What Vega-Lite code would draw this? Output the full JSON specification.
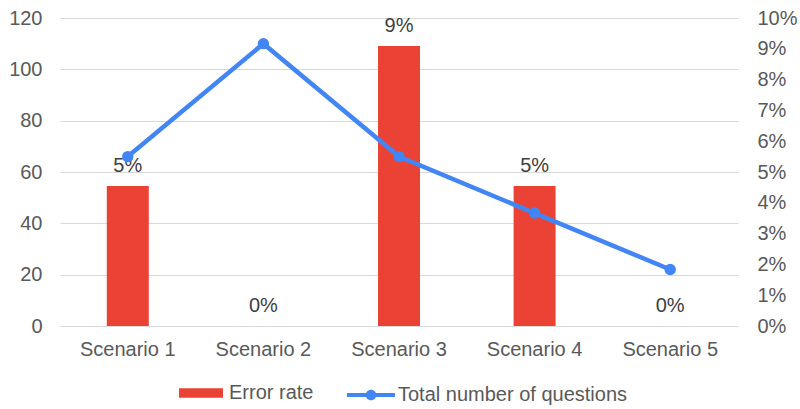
{
  "$schema": "https://vega.github.io/schema/vega-lite/v6.json",
  "width": 678,
  "height": 308,
  "autosize": {"type": "none"},
  "padding": {"left": 60, "top": 18, "right": 62, "bottom": 83},
  "config": {
    "view": {"stroke": null},
    "font": "Liberation Sans",
    "axis": {"labelFont": "Liberation Sans", "labelColor": "#595959", "labelFontSize": 20},
    "legend": {"labelFont": "Liberation Sans", "labelColor": "#595959", "labelFontSize": 20, "labelLimit": 500}
  },
  "data": {
    "values": [
      {"scenario": "Scenario 1", "rate": 0.04545, "questions": 66},
      {"scenario": "Scenario 2", "rate": 0, "questions": 110},
      {"scenario": "Scenario 3", "rate": 0.0909, "questions": 66},
      {"scenario": "Scenario 4", "rate": 0.04545, "questions": 44},
      {"scenario": "Scenario 5", "rate": 0, "questions": 22}
    ]
  },
  "encoding": {
    "x": {
      "field": "scenario",
      "type": "nominal",
      "sort": null,
      "scale": {"paddingInner": 0, "paddingOuter": 0},
      "axis": {"title": null, "labelAngle": 0, "ticks": false, "domainColor": "#D9D9D9", "domainWidth": 1, "labelPadding": 13}
    }
  },
  "layer": [
    {
      "encoding": {
        "y": {
          "field": "rate",
          "type": "quantitative",
          "scale": {"domain": [0, 0.1], "nice": false},
          "axis": {"orient": "right", "values": [0, 0.01, 0.02, 0.03, 0.04, 0.05, 0.06, 0.07, 0.08, 0.09, 0.1], "format": ".0%", "grid": false, "domain": false, "ticks": false, "labelPadding": 19, "title": null}
        }
      },
      "layer": [
        {
          "mark": {"type": "bar", "size": 42},
          "encoding": {
            "color": {
              "datum": "Error rate",
              "scale": {"range": ["#EA4335"]},
              "legend": {
                "orient": "none", "legendX": 119, "legendY": 353, "title": null,
                "symbolType": "M-1,-0.22H1V0.22H-1Z", "symbolSize": 1936, "labelOffset": 6,
                "encode": {"symbols": {"update": {"strokeWidth": {"value": 0}}}}
              }
            }
          }
        },
        {
          "mark": {"type": "text", "dy": -14, "baseline": "alphabetic", "fontSize": 20, "color": "#404040", "font": "Liberation Sans"},
          "encoding": {
            "text": {"field": "rate", "type": "quantitative", "format": ".0%"}
          }
        }
      ]
    },
    {
      "mark": {"type": "line", "strokeWidth": 4.5, "point": {"filled": true, "size": 130}},
      "encoding": {
        "y": {
          "field": "questions",
          "type": "quantitative",
          "scale": {"domain": [0, 120], "nice": false},
          "axis": {"orient": "left", "values": [0, 20, 40, 60, 80, 100, 120], "grid": true, "gridColor": "#D9D9D9", "domain": false, "ticks": false, "labelPadding": 18, "title": null}
        },
        "color": {
          "datum": "Total number of questions",
          "scale": {"range": ["#4285F4"]},
          "legend": {
            "orient": "none", "legendX": 287, "legendY": 353, "title": null,
            "symbolType": "M-1,-0.085H1V0.085H-1Z M0.22,0A0.22,0.22,0,1,1,-0.22,0A0.22,0.22,0,1,1,0.22,0Z",
            "symbolSize": 2304, "labelOffset": 3,
            "encode": {"symbols": {"update": {"fill": {"value": "#4285F4"}, "stroke": {"value": "transparent"}, "strokeWidth": {"value": 0}}}}
          }
        }
      }
    }
  ],
  "resolve": {"scale": {"y": "independent", "color": "independent"}}
}
